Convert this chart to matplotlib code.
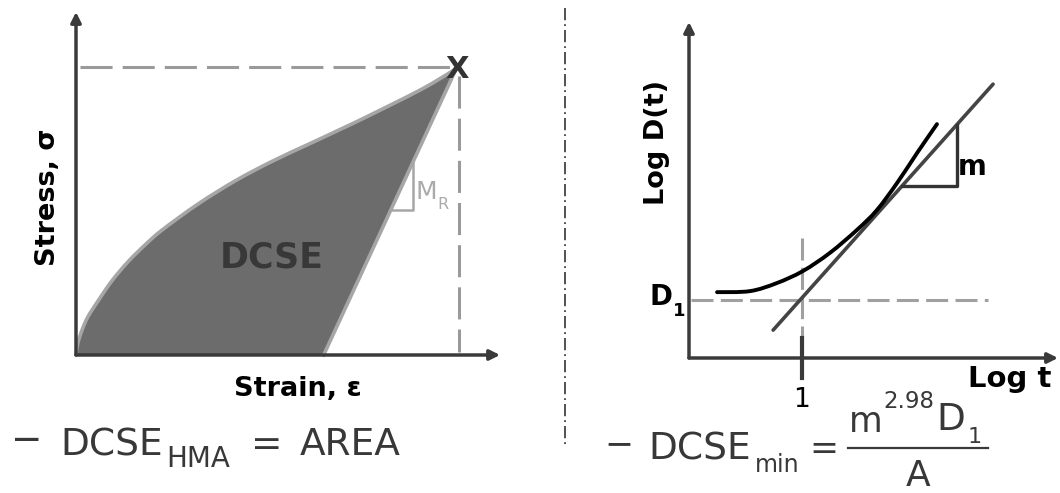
import matplotlib
matplotlib.use("Agg")
import matplotlib.pyplot as plt
import numpy as np
from matplotlib.path import Path
from matplotlib.patches import PathPatch

W, H = 1060, 493

# ---- Left panel: stress-strain loop (normalised so the peak sits at 1, 1) ----
load_strain = [0.0, 0.005, 0.016, 0.031, 0.058, 0.094, 0.136, 0.181, 0.226,
               0.320, 0.417, 0.514, 0.614, 0.693, 0.772, 0.906, 0.984, 1.0]
load_stress = [0.0, 0.042, 0.087, 0.132, 0.188, 0.257, 0.323, 0.382, 0.434,
               0.524, 0.604, 0.672, 0.734, 0.783, 0.833, 0.922, 0.983, 1.0]
peak = (1.0, 1.0)
residual_strain = 0.65          # unloading path reaches zero stress here
mr_strain, mr_stress = 0.885, 0.503   # corner of the resilient-modulus triangle

# ---- Right panel: log creep compliance vs log time (axis-normalised) ----
creep_logt = [0.076, 0.165, 0.238, 0.309, 0.382, 0.455, 0.509, 0.564, 0.618, 0.672]
creep_logd = [0.196, 0.199, 0.223, 0.259, 0.313, 0.381, 0.440, 0.521, 0.610, 0.696]
tangent_logt = [0.228, 0.824]
tangent_logd = [0.083, 0.815]
t_one = 0.306                   # position of t = 1
d_one = 0.173                   # D1 level
slope_tri_t = [0.577, 0.726]    # run of the slope triangle

AXIS_C = "#3a3a3a"


def panel(x0, y_top, x1, y_bot):
    """Axes whose unit square maps onto a pixel box of the figure."""
    ax = fig.add_axes([x0 / W, 1 - y_bot / H, (x1 - x0) / W, (y_bot - y_top) / H])
    ax.set_xlim(0, 1)
    ax.set_ylim(0, 1)
    ax.axis("off")
    ax.patch.set_alpha(0)
    return ax


def smooth_segments(xs, ys):
    """Catmull-Rom style cubic Bezier pieces passing through every point."""
    pts = np.column_stack([xs, ys]).astype(float)
    n = len(pts)
    verts, codes = [pts[0]], [Path.MOVETO]
    for i in range(n - 1):
        p0, p1 = pts[max(i - 1, 0)], pts[i]
        p2, p3 = pts[i + 1], pts[min(i + 2, n - 1)]
        verts += [p1 + (p2 - p0) / 6.0, p2 - (p3 - p1) / 6.0, p2]
        codes += [Path.CURVE4] * 3
    return verts, codes


def arrow(ax, start, tip):
    ax.annotate("", xy=tip, xytext=start, annotation_clip=False,
                arrowprops=dict(arrowstyle="-|>", color=AXIS_C, lw=2.5,
                                mutation_scale=15, shrinkA=0, shrinkB=0))


fig = plt.figure(figsize=(W / 100, H / 100), dpi=100)
fig.patch.set_facecolor("white")

# ------------------------------------------------------------------ left
ax1 = panel(76, 67, 457, 355)
lv, lc = smooth_segments(load_strain, load_stress)
loop_v = lv + [(residual_strain, 0.0), (0.0, 0.0)]
loop_c = lc + [Path.LINETO, Path.CLOSEPOLY]
ax1.add_patch(PathPatch(Path(loop_v, loop_c), facecolor="#6c6c6c",
                        edgecolor="none", zorder=2, clip_on=False))
ax1.add_patch(PathPatch(Path(lv, lc), facecolor="none", edgecolor="#a6a6a6",
                        lw=2.6, zorder=3, clip_on=False))
ax1.plot([residual_strain, peak[0]], [0, peak[1]], color="#a6a6a6", lw=2.6,
         zorder=3, clip_on=False)

# resilient modulus triangle on the unloading line
unload_dx = (peak[0] - residual_strain) / peak[1]
tri_left = residual_strain + unload_dx * mr_stress
tri_top = (mr_strain - residual_strain) / unload_dx
ax1.plot([tri_left, mr_strain, mr_strain], [mr_stress, mr_stress, tri_top],
         color="#a6a6a6", lw=1.8, zorder=3, clip_on=False)

dash_l = (0, (10.5, 3.3))
ax1.plot([0.01, peak[0]], [peak[1], peak[1]], color="#9a9a9a", lw=2.2,
         ls=dash_l, zorder=1, clip_on=False)
ax1.plot([peak[0] + 0.005, peak[0] + 0.005], [peak[1] - 0.03, 0.01],
         color="#9a9a9a", lw=2.2, ls=dash_l, zorder=1, clip_on=False)

arrow(ax1, (0, 0), (0, 1.191))
arrow(ax1, (0, 0), (1.113, 0))

# ------------------------------------------------------------------ right
ax2 = panel(689, 22, 1058, 358)
dash_r = (0, (7.2, 2.4))
ax2.plot([0.005, 0.81], [d_one, d_one], color="#a0a0a0", lw=2.2, ls=dash_r,
         zorder=1, clip_on=False)
ax2.plot([t_one, t_one], [0.357, 0.06], color="#a0a0a0", lw=2.2, ls=dash_r,
         zorder=1, clip_on=False)
ax2.plot([t_one, t_one], [0.06, -0.06], color=AXIS_C, lw=3.0, zorder=4,
         clip_on=False)

tan_slope = (tangent_logd[1] - tangent_logd[0]) / (tangent_logt[1] - tangent_logt[0])
ax2.plot(tangent_logt, tangent_logd, color="#444444", lw=2.6, zorder=2,
         solid_capstyle="round", clip_on=False)
cv, cc = smooth_segments(creep_logt, creep_logd)
ax2.add_patch(PathPatch(Path(cv, cc), facecolor="none", edgecolor="#000000",
                        lw=2.8, capstyle="round", zorder=3, clip_on=False))

tri_y = [tangent_logd[0] + tan_slope * (t - tangent_logt[0]) for t in slope_tri_t]
ax2.plot([slope_tri_t[0], slope_tri_t[1], slope_tri_t[1]],
         [tri_y[0], tri_y[0], tri_y[1]], color="#333333", lw=2.4, zorder=2,
         clip_on=False)

arrow(ax2, (0, 0), (0, 1.0))
arrow(ax2, (0, 0), (1.0, 0))

# ------------------------------------------------------------------ overlay
ov = fig.add_axes([0, 0, 1, 1], zorder=10)
ov.set_xlim(0, W)
ov.set_ylim(H, 0)
ov.axis("off")
ov.patch.set_alpha(0)

# panel divider
ov.plot([565, 565], [8, 446], color="#222222", lw=1.1,
        ls=(0, (8.0, 2.6, 1.2, 2.6)))

FS = "DejaVu Sans"
ov.text(48, 197, "Stress, σ", rotation=90, ha="center", va="center",
        fontsize=19.5, fontweight="bold", family=FS, color="black")
ov.text(298, 396, "Strain, ε", ha="center", va="baseline",
        fontsize=19.5, fontweight="bold", family=FS, color="black")
ov.text(272, 258, "DCSE", ha="center", va="center", fontsize=25,
        fontweight="bold", family=FS, color="#383838")
ov.text(457, 69, "X", ha="center", va="center", fontsize=22,
        fontweight="bold", family=FS, color="#333333")
ov.text(415, 199, "M", ha="left", va="baseline", fontsize=18,
        family=FS, color="#aaaaaa")
ov.text(437, 209, "R", ha="left", va="baseline", fontsize=11.5,
        family=FS, color="#aaaaaa")

ov.text(657, 142, "Log D(t)", rotation=90, ha="center", va="center",
        fontsize=19.5, fontweight="bold", family=FS, color="black")
ov.text(649, 305, "D", ha="left", va="baseline", fontsize=20,
        fontweight="bold", family=FS, color="black")
ov.text(673, 316, "1", ha="left", va="baseline", fontsize=13,
        fontweight="bold", family=FS, color="black")
ov.text(802, 407, "1", ha="center", va="baseline", fontsize=19,
        family=FS, color="black")
ov.text(1010, 387, "Log t", ha="center", va="baseline", fontsize=21,
        fontweight="bold", family=FS, color="black")
ov.text(958, 175, "m", ha="left", va="baseline", fontsize=20,
        fontweight="bold", family=FS, color="black")

# formulas
FC = "#383838"
ov.text(27, 441, "\u2212", ha="center", va="center", fontsize=27, family=FS, color=FC)
ov.text(60, 455, "DCSE", ha="left", va="baseline", fontsize=27, family=FS, color=FC)
ov.text(166, 467, "HMA", ha="left", va="baseline", fontsize=20, family=FS, color=FC)
ov.text(267, 455, "=", ha="center", va="baseline", fontsize=27, family=FS, color=FC)
ov.text(300, 455, "AREA", ha="left", va="baseline", fontsize=27, family=FS, color=FC)

ov.text(619, 444, "\u2212", ha="center", va="center", fontsize=25, family=FS, color=FC)
ov.text(648, 459, "DCSE", ha="left", va="baseline", fontsize=27, family=FS, color=FC)
ov.text(755, 472, "min", ha="left", va="baseline", fontsize=17, family=FS, color=FC)
ov.text(824, 459, "=", ha="center", va="baseline", fontsize=25, family=FS, color=FC)
ov.text(849, 432, "m", ha="left", va="baseline", fontsize=25, family=FS, color=FC)
ov.text(883, 408, "2.98", ha="left", va="baseline", fontsize=16.5, family=FS, color=FC)
ov.text(936, 430, "D", ha="left", va="baseline", fontsize=27, family=FS, color=FC)
ov.text(968, 443, "1", ha="left", va="baseline", fontsize=16, family=FS, color=FC)
ov.plot([848, 988], [448, 448], color=FC, lw=1.6)
ov.text(918, 486, "A", ha="center", va="baseline", fontsize=26, family=FS, color=FC)

fig.savefig("out.png", dpi=100, facecolor="white")
